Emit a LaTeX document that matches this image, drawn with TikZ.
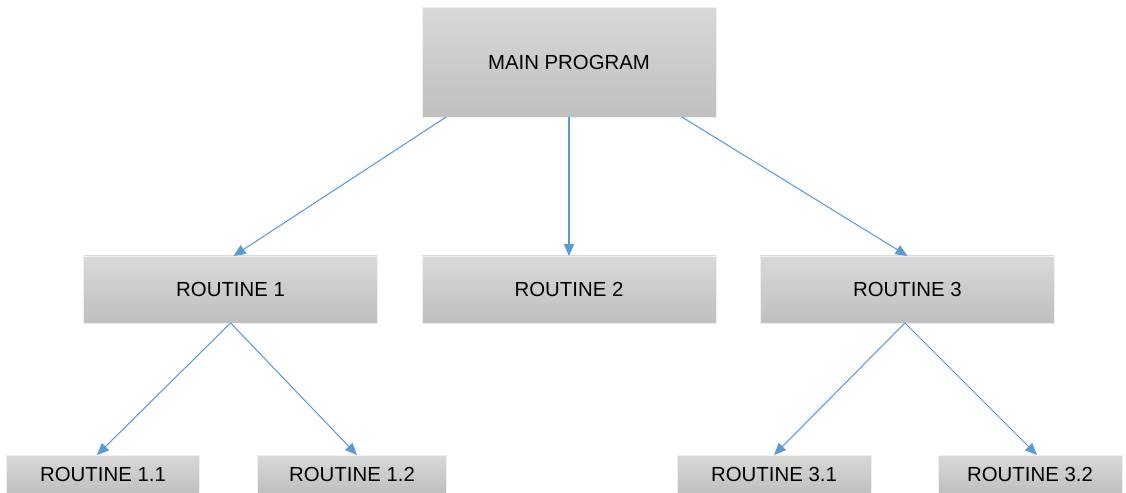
\documentclass[tikz,border=0pt]{standalone}
\usepackage{fontspec}
\setmainfont{Liberation Sans}
\usetikzlibrary{positioning,calc,arrows.meta}
\definecolor{linkblue}{HTML}{5B9BD5}
\tikzset{
  routine box/.style={
    top color=gray!30,
    bottom color=gray!50,
    draw=gray!12,
    outer sep=0pt,
    minimum width={#1},
    font=\fontsize{11.6}{14}\selectfont,
  },
  call/.style={
    draw=linkblue,
    line width=0.6pt,
    -{Triangle[length=6.8pt,width=5.8pt]},
  }
}

\begin{document}
\begin{tikzpicture}[x=0.02cm,y=-0.02cm,node distance=0.89cm]
        \useasboundingbox (0,0) rectangle (1126,493);

        \node [routine box=5.88cm, minimum height=2.2cm] (main) at (569,62) {MAIN PROGRAM};
        \node [routine box=5.88cm, minimum height=1.34cm, below=2.78cm of main] (r2) {ROUTINE 2};
        \node [routine box=5.88cm, minimum height=1.34cm, left=of r2] (r1) {ROUTINE 1};
        \node [routine box=5.88cm, minimum height=1.34cm, right=of r2] (r3) {ROUTINE 3};

        \node [routine box=3.86cm, minimum height=0.76cm] (r11) at (103,474) {ROUTINE 1.1};
        \node [routine box=3.78cm, minimum height=0.76cm] (r12) at (352,474) {ROUTINE 1.2};
        \node [routine box=3.88cm, minimum height=0.76cm] (r31) at (774,474) {ROUTINE 3.1};
        \node [routine box=3.68cm, minimum height=0.76cm] (r32) at (1030,474) {ROUTINE 3.2};

        \draw [call] ($(main.south west)!0.082!(main.south east)$) -- ([xshift=0.06cm]r1.north);
        \draw [call] (main.south) -- (r2.north);
        \draw [call] ($(main.south west)!0.884!(main.south east)$) -- (r3.north);

        \draw [call] (r1.south) -- ([xshift=-0.12cm]r11.north);
        \draw [call] (r1.south) -- ([xshift=0.1cm]r12.north);
        \draw [call] ([xshift=-0.05cm]r3.south) -- (r31.north);
        \draw [call] ([xshift=-0.05cm]r3.south) -- ([xshift=0.14cm]r32.north);
      \end{tikzpicture}
\end{document}
